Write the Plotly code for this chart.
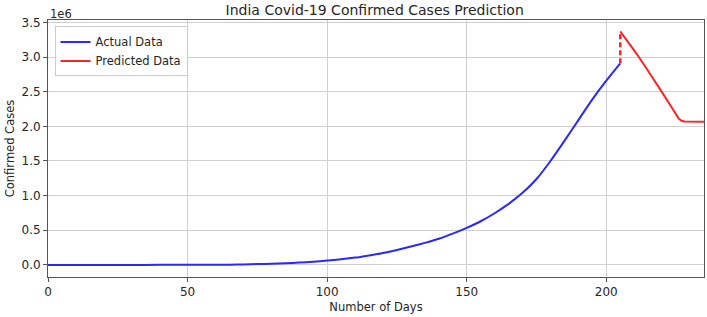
import plotly.graph_objects as go

# Actual confirmed cases
actual_days = [0, 10, 20, 30, 40, 50, 55, 60, 65, 70, 75, 80, 85, 90, 95, 100,
               105, 110, 115, 120, 125, 130, 135, 140, 145, 150, 155, 160, 165,
               170, 175, 180, 185, 190, 195, 200, 205]
actual_cases = [0, 0, 0, 0, 60, 250, 600, 1200, 3500, 6400, 11500, 17300, 24500,
                33000, 46000, 62000, 81000, 105000, 137000, 172000, 215000,
                264000, 318000, 378000, 452000, 535000, 630000, 745000, 880000,
                1040000, 1240000, 1500000, 1790000, 2090000, 2390000, 2660000,
                2910000]

# Predicted cases
pred_days = [205, 208, 211, 214, 217, 220, 223, 225, 226, 227, 228, 235]
pred_cases = [3370000, 3210000, 3040000, 2860000, 2680000, 2490000, 2300000,
              2170000, 2110000, 2080000, 2070000, 2065000]

# Bridge between last actual and first predicted value
bridge_days = [actual_days[-1], pred_days[0]]
bridge_cases = [actual_cases[-1], pred_cases[0]]

y_ticks = [0, 500000, 1000000, 1500000, 2000000, 2500000, 3000000, 3500000]
y_tick_labels = ["0.0", "0.5", "1.0", "1.5", "2.0", "2.5", "3.0", "3.5"]
x_ticks = [0, 50, 100, 150, 200]

blue = "rgb(40,40,255)"
red = "rgb(255,35,35)"
font = "DejaVu Sans"
txt = "#262626"

fig = go.Figure()
fig.add_trace(go.Scatter(x=actual_days, y=actual_cases, mode="lines",
                         name="Actual Data",
                         line=dict(color=blue, width=2, shape="spline",
                                   smoothing=0.6)))
fig.add_trace(go.Scatter(x=pred_days, y=pred_cases, mode="lines",
                         name="Predicted Data", line=dict(color=red, width=2)))
fig.add_trace(go.Scatter(x=bridge_days, y=bridge_cases, mode="lines",
                         showlegend=False,
                         line=dict(color=red, width=2.5, dash="5px,3px")))

fig.update_layout(
    width=707, height=317,
    margin=dict(l=48, r=3, t=20, b=40, autoexpand=False),
    paper_bgcolor="white", plot_bgcolor="white",
    font=dict(family=font, size=12, color=txt),
    title=dict(text="India Covid-19 Confirmed Cases Prediction",
               x=0.53, xanchor="center", y=0.968, yanchor="middle",
               font=dict(size=14, color=txt)),
    legend=dict(x=0.01, y=0.975, xanchor="left", yanchor="top",
                bgcolor="rgba(255,255,255,0.85)", bordercolor="#cccccc",
                borderwidth=1, font=dict(size=11.5, color=txt),
                tracegroupgap=0, itemwidth=30),
    showlegend=True,
)
fig.update_xaxes(range=[0, 235], tickvals=x_ticks, showgrid=True,
                 gridcolor="#cfcfcf", gridwidth=1, zeroline=False,
                 showline=True, linecolor="#555555", linewidth=1, mirror=True,
                 ticks="outside", ticklen=4, tickcolor="#555555",
                 tickfont=dict(size=12),
                 title=dict(text="Number of Days", standoff=4,
                            font=dict(size=11.5)))
fig.update_yaxes(range=[-175000, 3535000], tickvals=y_ticks,
                 ticktext=y_tick_labels, showgrid=True,
                 gridcolor="#cfcfcf", gridwidth=1, zeroline=False,
                 showline=True, linecolor="#555555", linewidth=1, mirror=True,
                 ticks="outside", ticklen=4, tickcolor="#555555",
                 tickfont=dict(size=12),
                 title=dict(text="Confirmed Cases", standoff=4,
                            font=dict(size=11.5)))
fig.add_annotation(text="1e6", xref="paper", yref="paper", x=0, y=1,
                   xanchor="left", yanchor="bottom", showarrow=False,
                   font=dict(size=11.5, color=txt), yshift=-3)

fig.write_html("out.html", config={"displayModeBar": False},
               post_script="document.body.style.margin='0';"
                           "document.body.style.padding='0';")
